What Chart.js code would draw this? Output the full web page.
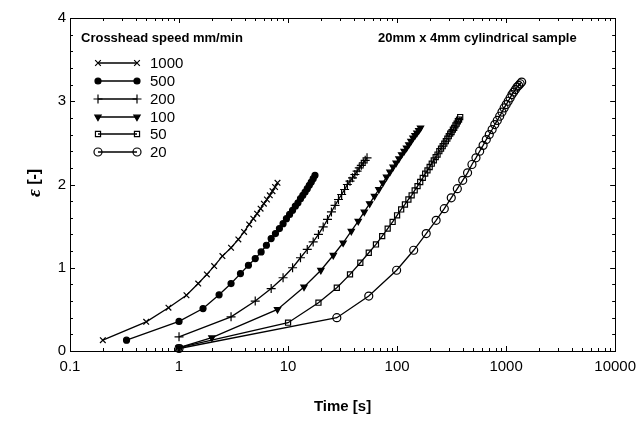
<!DOCTYPE html>
<html>
<head>
<meta charset="utf-8">
<script src="https://cdn.jsdelivr.net/npm/chart.js@4"></script>
<style>
html,body{margin:0;padding:0;background:#fff;}
canvas{display:block;}
</style>
</head>
<body>
<canvas id="c" width="643" height="421" style="width:643px;height:421px"></canvas>
<script>
// ---- data ----
const speedLabels = ["1000", "500", "200", "100", "50", "20"];

const t1000 = [0.2, 0.5, 0.8, 1.17, 1.5, 1.8, 2.1, 2.5, 3.0, 3.5, 3.95, 4.4, 4.8, 5.2, 5.6, 6.0, 6.4, 6.8, 7.2, 7.6, 8.0];
const e1000 = [0.13, 0.35, 0.52, 0.67, 0.81, 0.92, 1.02, 1.14, 1.24, 1.34, 1.43, 1.52, 1.59, 1.65, 1.71, 1.77, 1.82, 1.87, 1.92, 1.97, 2.02];

const t500 = [0.33, 1.0, 1.66, 2.33, 3.0, 3.66, 4.33, 5.0, 5.66, 6.33, 7.0, 7.66, 8.33, 9.0, 9.66, 10.33, 11.0, 11.66, 12.33, 13.0, 13.66, 14.33, 15.0, 15.66, 16.33, 17.0, 17.66];
const e500 = [0.13, 0.355, 0.51, 0.675, 0.81, 0.93, 1.03, 1.11, 1.19, 1.27, 1.35, 1.41, 1.47, 1.53, 1.59, 1.64, 1.69, 1.74, 1.78, 1.83, 1.87, 1.91, 1.95, 1.99, 2.03, 2.07, 2.11];

const t200 = [1, 3, 5, 7, 9, 11, 13, 15, 17, 19, 21, 23, 25, 27, 29, 31, 33, 35, 37, 39, 41, 43, 45, 47, 49, 51, 53];
const e200 = [0.17, 0.41, 0.60, 0.75, 0.88, 1.00, 1.12, 1.22, 1.31, 1.40, 1.49, 1.58, 1.67, 1.75, 1.82, 1.88, 1.94, 2.00, 2.04, 2.08, 2.12, 2.16, 2.20, 2.23, 2.26, 2.29, 2.32];

const t100 = [1, 2, 8, 14, 20, 26, 32, 38, 44, 50, 56, 62, 68, 74, 80, 86, 92, 98, 104, 110, 116, 122, 128, 134, 140, 146, 152, 158, 164];
const e100 = [0.04, 0.16, 0.50, 0.77, 0.97, 1.15, 1.30, 1.44, 1.56, 1.67, 1.77, 1.86, 1.94, 2.02, 2.09, 2.15, 2.21, 2.26, 2.31, 2.36, 2.40, 2.44, 2.48, 2.52, 2.56, 2.59, 2.62, 2.65, 2.68];

const t50 = [1, 10, 19, 28, 37, 46, 55, 64, 73, 82, 91, 100, 109, 118, 127, 136, 145, 154, 163, 172, 181, 190, 199, 208, 217, 226, 235, 244, 253, 262, 271, 280, 289, 298, 307, 316, 325, 334, 343, 352, 361, 370, 379];
const e50 = [0.04, 0.34, 0.58, 0.76, 0.92, 1.06, 1.18, 1.28, 1.38, 1.47, 1.55, 1.63, 1.70, 1.76, 1.82, 1.87, 1.93, 1.98, 2.03, 2.08, 2.13, 2.17, 2.21, 2.25, 2.29, 2.33, 2.36, 2.40, 2.43, 2.46, 2.49, 2.52, 2.55, 2.58, 2.61, 2.63, 2.66, 2.68, 2.71, 2.73, 2.76, 2.78, 2.81];

const t20 = [1, 28, 55, 99, 142, 185, 228, 271, 314, 357, 400, 443, 486, 529, 572, 615, 658, 701, 744, 787, 830, 873, 916, 959, 1002, 1045, 1088, 1131, 1174, 1217, 1260, 1303, 1346, 1389];
const e20 = [0.03, 0.40, 0.66, 0.97, 1.21, 1.41, 1.57, 1.71, 1.84, 1.95, 2.05, 2.14, 2.24, 2.32, 2.40, 2.47, 2.54, 2.60, 2.66, 2.72, 2.77, 2.82, 2.87, 2.92, 2.96, 3.00, 3.04, 3.08, 3.11, 3.14, 3.17, 3.19, 3.21, 3.23];

const xTicks = [0.1, 1, 10, 100, 1000, 10000];
const xTickLabels = ["0.1", "1", "10", "100", "1000", "10000"];
const yTicks = [0, 1, 2, 3, 4];
const yTickLabels = ["0", "1", "2", "3", "4"];

const xTitle = "Time [s]";
const yTitleSymbol = "ε";
const yTitleRest = " [-]";
const legendTitle = "Crosshead speed mm/min";
const sampleNote = "20mm x 4mm cylindrical sample";

// ---- styles ----
const SANS = "'Liberation Sans', Arial, Helvetica, sans-serif";
const styles = [
  {pointStyle: 'crossRot', radius: 4, fill: '#000', rotation: 0},
  {pointStyle: 'circle', radius: 3, fill: '#000', rotation: 0},
  {pointStyle: 'cross', radius: 4.5, fill: '#000', rotation: 0},
  {pointStyle: 'triangle', radius: 3.6, fill: '#000', rotation: 180},
  {pointStyle: 'rect', radius: 3.6, fill: 'rgba(0,0,0,0)', rotation: 0},
  {pointStyle: 'circle', radius: 4, fill: 'rgba(0,0,0,0)', rotation: 0}
];
const seriesT = [t1000, t500, t200, t100, t50, t20];
const seriesE = [e1000, e500, e200, e100, e50, e20];

const datasets = seriesT.map((ts, i) => ({
  label: speedLabels[i],
  data: ts.map((t, j) => ({x: t, y: seriesE[i][j]})),
  borderColor: '#000',
  borderWidth: 1.3,
  backgroundColor: styles[i].fill,
  pointBackgroundColor: styles[i].fill,
  pointBorderColor: '#000',
  pointBorderWidth: 1.2,
  pointStyle: styles[i].pointStyle,
  pointRadius: styles[i].radius,
  pointRotation: styles[i].rotation,
  tension: 0,
  fill: false,
  clip: false
}));

const deco = {
  id: 'deco',
  afterDatasetsDraw(chart) {
    const ctx = chart.ctx;
    const a = chart.chartArea;
    const xs = chart.scales.x, ys = chart.scales.y;
    ctx.save();
    ctx.strokeStyle = '#000';
    ctx.lineWidth = 1;
    ctx.strokeRect(Math.round(a.left) + 0.5, Math.round(a.top) + 0.5, Math.round(a.right - a.left), Math.round(a.bottom - a.top));
    // x ticks (log, inward)
    ctx.beginPath();
    for (let d = -1; d <= 3; d++) {
      for (let k = 1; k <= 9; k++) {
        const v = k * Math.pow(10, d);
        const px = Math.round(xs.getPixelForValue(v)) + 0.5;
        const len = k === 1 ? 5 : 3;
        ctx.moveTo(px, a.bottom); ctx.lineTo(px, a.bottom - len);
        ctx.moveTo(px, a.top); ctx.lineTo(px, a.top + len);
      }
    }
    // y ticks
    for (let i = 0; i <= 20; i++) {
      const v = i * 0.2;
      const py = Math.round(ys.getPixelForValue(v)) + 0.5;
      const len = i % 5 === 0 ? 5 : 3;
      ctx.moveTo(a.left, py); ctx.lineTo(a.left + len, py);
      ctx.moveTo(a.right, py); ctx.lineTo(a.right - len, py);
    }
    ctx.stroke();
    ctx.restore();
  },
  afterDraw(chart) {
    const ctx = chart.ctx;
    const a = chart.chartArea;
    ctx.save();
    ctx.fillStyle = '#000';
    ctx.textBaseline = 'middle';
    // annotations
    ctx.font = 'bold 13px ' + SANS;
    ctx.textAlign = 'left';
    ctx.fillText(legendTitle, 81, 38);
    ctx.fillText(sampleNote, 378, 38);
    // legend entries
    const rows = [63, 81, 99, 117, 134, 152];
    ctx.font = '15px ' + SANS;
    rows.forEach((y, i) => {
      ctx.strokeStyle = '#000';
      ctx.lineWidth = 1.3;
      ctx.beginPath(); ctx.moveTo(98, y); ctx.lineTo(137, y); ctx.stroke();
      ctx.fillStyle = styles[i].fill;
      ctx.lineWidth = 1.2;
      const o = {pointStyle: styles[i].pointStyle, radius: styles[i].radius, rotation: styles[i].rotation, borderWidth: 1.2};
      Chart.helpers.drawPoint(ctx, o, 98, y);
      Chart.helpers.drawPoint(ctx, o, 137, y);
      ctx.fillStyle = '#000';
      ctx.fillText(speedLabels[i], 150, y + 1);
    });
    // axis titles
    ctx.textAlign = 'center';
    ctx.font = 'bold 15px ' + SANS;
    ctx.fillText(xTitle, (a.left + a.right) / 2, 407);
    ctx.save();
    ctx.translate(35, 183);
    ctx.rotate(-Math.PI / 2);
    ctx.font = 'italic bold 19px "Liberation Serif", "Times New Roman", serif';
    const w1 = ctx.measureText(yTitleSymbol).width;
    ctx.font = 'bold 16px ' + SANS;
    const w2 = ctx.measureText(yTitleRest).width;
    const start = -(w1 + w2) / 2;
    ctx.textAlign = 'left';
    ctx.font = 'italic bold 19px "Liberation Serif", "Times New Roman", serif';
    ctx.fillText(yTitleSymbol, start, 0);
    ctx.font = 'bold 16px ' + SANS;
    ctx.fillText(yTitleRest, start + w1, 0);
    ctx.restore();
    ctx.restore();
  }
};

new Chart(document.getElementById('c'), {
  type: 'line',
  data: {datasets},
  options: {
    responsive: false,
    animation: false,
    devicePixelRatio: 1,
    layout: {padding: {left: 0, right: 20, top: 18, bottom: 0}},
    plugins: {legend: {display: false}, tooltip: {enabled: false}},
    elements: {line: {tension: 0}},
    scales: {
      x: {
        type: 'logarithmic',
        min: 0.1, max: 10000,
        grid: {display: false, drawTicks: false},
        border: {display: false},
        afterBuildTicks: s => { s.ticks = xTicks.map(v => ({value: v})); },
        afterFit: s => { s.height = 70; },
        ticks: {
          autoSkip: false, maxRotation: 0, padding: 7,
          color: '#000', font: {family: SANS, size: 15},
          callback: (v) => { const i = xTicks.indexOf(v); return i >= 0 ? xTickLabels[i] : ''; }
        }
      },
      y: {
        type: 'linear',
        min: 0, max: 4,
        grid: {display: false, drawTicks: false},
        border: {display: false},
        afterBuildTicks: s => { s.ticks = yTicks.map(v => ({value: v})); },
        afterFit: s => { s.width = 70; },
        ticks: {
          padding: 4, color: '#000', font: {family: SANS, size: 15},
          callback: (v) => { const i = yTicks.indexOf(v); return i >= 0 ? yTickLabels[i] : ''; }
        }
      }
    }
  },
  plugins: [deco]
});
</script>
</body>
</html>
